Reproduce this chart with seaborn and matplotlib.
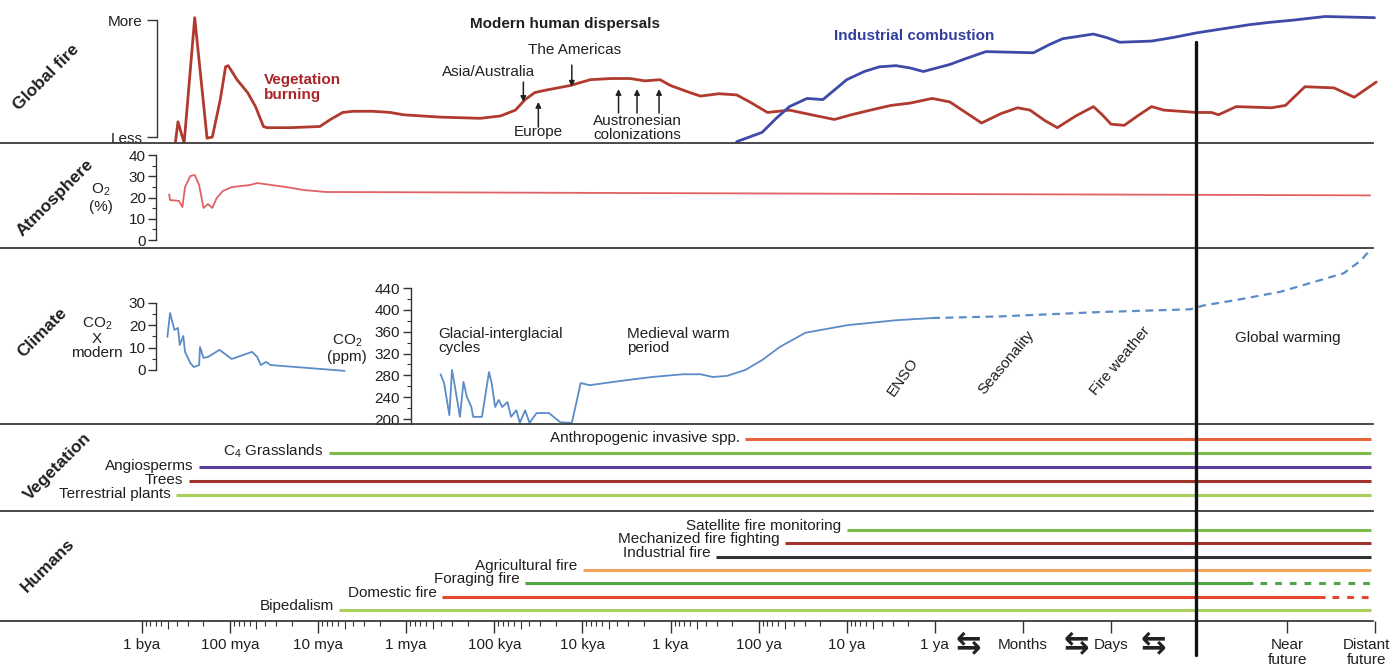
import numpy as np
import pandas as pd
import matplotlib
matplotlib.use('Agg')
import matplotlib.pyplot as plt
import matplotlib.transforms as mtransforms
from matplotlib.lines import Line2D
import seaborn as sns

# time axis: one unit per decade (0 = 1 bya ... 9 = 1 ya), then months, days, present, future
TIME_TICKS = [0, 1, 2, 3, 4, 5, 6, 7, 8, 9, 10, 11, 13, 14]
TIME_LABELS = ['1 bya', '100 mya', '10 mya', '1 mya', '100 kya', '10 kya', '1 kya',
               '100 ya', '10 ya', '1 ya', 'Months', 'Days', 'Near\nfuture', 'Distant\nfuture']
CYCLE_MARKS = [9.38, 10.60, 11.48]
PRESENT = 11.96
LINE_END = 13.95

# global fire (0 = less, 1 = more)
fire_pts = [(0.38, -0.05), (0.41, 0.13), (0.48, -0.05), (0.60, 1.02), (0.74, -0.01), (0.80, 0.00),
            (0.89, 0.32), (0.95, 0.60), (0.98, 0.61), (1.08, 0.49), (1.20, 0.38), (1.29, 0.26),
            (1.38, 0.09), (1.42, 0.08), (1.68, 0.08), (2.02, 0.09), (2.14, 0.15), (2.28, 0.21),
            (2.40, 0.22), (2.62, 0.22), (2.82, 0.21), (2.97, 0.19), (3.39, 0.17), (3.84, 0.16),
            (4.07, 0.18), (4.24, 0.23), (4.35, 0.32), (4.46, 0.38), (4.58, 0.40), (4.86, 0.44),
            (5.09, 0.49), (5.32, 0.50), (5.54, 0.50), (5.71, 0.48), (5.88, 0.49), (6.00, 0.44),
            (6.22, 0.38), (6.34, 0.35), (6.55, 0.37), (6.75, 0.36), (6.90, 0.30), (7.10, 0.21),
            (7.35, 0.23), (7.60, 0.19), (7.86, 0.15), (8.05, 0.19), (8.27, 0.23), (8.50, 0.27),
            (8.72, 0.29), (8.97, 0.33), (9.17, 0.30), (9.35, 0.21), (9.53, 0.12), (9.75, 0.20),
            (9.94, 0.25), (10.08, 0.23), (10.25, 0.14), (10.39, 0.08), (10.60, 0.18), (10.80, 0.26),
            (10.90, 0.19), (11.00, 0.11), (11.15, 0.10), (11.30, 0.18), (11.46, 0.26), (11.60, 0.23),
            (11.97, 0.21), (12.14, 0.21), (12.22, 0.19), (12.42, 0.26), (12.82, 0.25), (12.98, 0.27),
            (13.20, 0.43), (13.53, 0.42), (13.76, 0.34), (14.01, 0.47)]
industrial_pts = [(6.75, -0.04), (7.04, 0.04), (7.20, 0.16), (7.35, 0.26), (7.55, 0.33), (7.73, 0.32),
                  (8.00, 0.49), (8.20, 0.56), (8.37, 0.60), (8.56, 0.61), (8.72, 0.59), (8.87, 0.56),
                  (9.17, 0.62), (9.35, 0.67), (9.58, 0.73), (10.12, 0.72), (10.30, 0.79), (10.45, 0.84),
                  (10.80, 0.88), (10.95, 0.85), (11.10, 0.81), (11.46, 0.82), (11.70, 0.85), (11.97, 0.89),
                  (12.57, 0.96), (12.80, 0.98), (13.08, 1.00), (13.43, 1.03), (13.99, 1.02)]

# atmospheric O2 (%)
o2_pts = [(0.31, 21.5), (0.32, 18.8), (0.42, 18.4), (0.46, 15.5), (0.49, 24.9), (0.55, 30.1),
          (0.60, 30.6), (0.65, 25.9), (0.70, 15.1), (0.75, 16.9), (0.80, 15.1), (0.85, 19.8),
          (0.92, 23.1), (1.02, 24.9), (1.23, 25.9), (1.31, 26.8), (1.64, 24.9), (1.84, 23.5),
          (2.09, 22.6), (6.34, 22.0), (13.94, 21.0)]

# CO2 as multiple of modern, deep time
co2x_pts = [(0.29, 14.8), (0.32, 25.5), (0.37, 17.9), (0.41, 18.8), (0.43, 11.2), (0.47, 15.2),
            (0.49, 8.1), (0.55, 3.1), (0.59, 1.3), (0.65, 2.2), (0.66, 10.3), (0.70, 5.4),
            (0.75, 5.8), (0.88, 9.0), (1.02, 4.9), (1.25, 8.1), (1.31, 5.8), (1.35, 2.2),
            (1.41, 3.6), (1.46, 2.2), (2.30, -0.4)]

# CO2 (ppm), observed and projected
ppm_pts = [(3.39, 282), (3.43, 266), (3.49, 207), (3.52, 290), (3.56, 253), (3.61, 204), (3.65, 268),
           (3.69, 240), (3.74, 222), (3.76, 204), (3.86, 204), (3.94, 286), (3.97, 266), (4.01, 222),
           (4.05, 235), (4.09, 222), (4.15, 231), (4.19, 204), (4.25, 216), (4.29, 193), (4.35, 216),
           (4.40, 193), (4.48, 211), (4.62, 211), (4.75, 194), (4.88, 193), (4.93, 229), (4.98, 266),
           (5.08, 262), (5.49, 271), (5.79, 277), (6.14, 282), (6.34, 282), (6.48, 277), (6.64, 279),
           (6.85, 290), (7.04, 308), (7.24, 332), (7.53, 358), (8.01, 372), (8.56, 381), (8.97, 385)]
ppm_future_pts = [(8.97, 385), (9.74, 388), (10.88, 396), (11.90, 401), (12.05, 408), (12.42, 418),
                  (12.92, 433), (13.64, 467), (13.84, 491), (13.94, 510)]

# vegetation timelines (start on time axis)
veg_labels = ['Anthropogenic invasive spp.', 'C$_4$ Grasslands', 'Angiosperms', 'Trees', 'Terrestrial plants']
veg_start = [6.85, 2.12, 0.65, 0.53, 0.39]
veg_colors = ['#e8643c', '#7cba4a', '#5b3f9e', '#9e3427', '#a9cf5c']

# human timelines
hum_labels = ['Satellite fire monitoring', 'Mechanized fire fighting', 'Industrial fire',
              'Agricultural fire', 'Foraging fire', 'Domestic fire', 'Bipedalism']
hum_start = [8.00, 7.30, 6.52, 5.01, 4.35, 3.41, 2.24]
hum_solid_end = [13.95, 13.95, 13.95, 13.95, 12.61, 13.43, 13.95]
hum_colors = ['#7cba4a', '#a5322a', '#333333', '#f4a259', '#4ea646', '#e4472e', '#a9cf5c']

fire = pd.DataFrame(fire_pts, columns=['t', 'level'])
industrial = pd.DataFrame(industrial_pts, columns=['t', 'level'])
o2 = pd.DataFrame(o2_pts, columns=['t', 'o2'])
co2x = pd.DataFrame(co2x_pts, columns=['t', 'co2x'])
ppm = pd.DataFrame(ppm_pts, columns=['t', 'ppm'])
ppm_future = pd.DataFrame(ppm_future_pts, columns=['t', 'ppm'])

sns.set_theme(style='white')
plt.rcParams['font.family'] = ['Liberation Sans', 'DejaVu Sans']
plt.rcParams['mathtext.default'] = 'regular'
TXT = '#231f20'
plt.rcParams['text.color'] = TXT

W, H = 1393, 670
XLIM = (-1.61, 14.20)
fig = plt.figure(figsize=(W / 100, H / 100), dpi=100)


def panel(top, bot, ylim):
    ax = fig.add_axes([0, 1 - bot / H, 1, (bot - top) / H])
    ax.patch.set_alpha(0)
    for s in ax.spines.values():
        s.set_visible(False)
    ax.set_xlim(XLIM)
    ax.set_ylim(ylim)
    ax.set_xticks([])
    ax.set_yticks([])
    return ax


def separator(ax):
    sp = ax.spines['bottom']
    sp.set_visible(True)
    sp.set_bounds(XLIM[0], 13.97)
    sp.set_color('#3a3a3a')
    sp.set_linewidth(1.3)


def yaxis(ax, xpos, lo, hi, ticks, labels=None, minor=None, length=5.5, pad=2):
    sp = ax.spines['left']
    sp.set_visible(True)
    sp.set_position(('data', xpos))
    sp.set_bounds(lo, hi)
    sp.set_color('#333333')
    sp.set_linewidth(1.0)
    ax.set_yticks(ticks)
    if labels is not None:
        ax.set_yticklabels(labels)
    if minor is not None:
        ax.set_yticks(minor, minor=True)
    ax.tick_params(axis='y', which='major', direction='out', length=length, width=1.0,
                   pad=pad, labelsize=11, left=True, colors='#333333', labelcolor=TXT)
    ax.tick_params(axis='y', which='minor', direction='out', length=3, width=0.8, left=True,
                   colors='#333333')


def line(ax, df, y, color, lw, **kw):
    sns.lineplot(data=df, x='t', y=y, ax=ax, color=color, linewidth=lw, sort=False,
                 estimator=None, legend=False, **kw)
    ax.set_xlabel('')
    ax.set_ylabel('')


# ---- Global fire
ax_fire = panel(0, 143, (-0.051, 1.171))
line(ax_fire, fire, 'level', '#b03a2e', 2.0)
line(ax_fire, industrial, 'level', '#3d4aa8', 2.0)
separator(ax_fire)
yaxis(ax_fire, 0.17, 0, 1, [0, 1], ['Less', 'More'], length=7, pad=3)
ax_fire.text(1.38, 0.42, 'Vegetation\nburning', color='#a8262b', fontsize=11, fontweight='bold',
             ha='left', va='center', linespacing=1.1)
ax_fire.text(8.77, 0.86, 'Industrial combustion', color='#333f9c', fontsize=11, fontweight='bold',
             ha='center', va='center')
ax_fire.text(4.80, 0.97, 'Modern human dispersals', fontsize=11, fontweight='bold', ha='center', va='center')
ax_fire.text(4.91, 0.74, 'The Americas', fontsize=11, ha='center', va='center')
ax_fire.text(3.94, 0.56, 'Asia/Australia', fontsize=11, ha='center', va='center')
ax_fire.text(4.50, 0.04, 'Europe', fontsize=11, ha='center', va='center')
ax_fire.text(5.62, 0.08, 'Austronesian\ncolonizations', fontsize=11, ha='center', va='center',
             linespacing=1.0)
arrows = [(4.88, 0.615, 0.43), (4.33, 0.47, 0.30), (4.50, 0.085, 0.30),
          (5.41, 0.205, 0.41), (5.62, 0.205, 0.41), (5.87, 0.205, 0.41)]
for ax_x, tail, head in arrows:
    ax_fire.annotate('', xy=(ax_x, head), xytext=(ax_x, tail),
                     arrowprops=dict(arrowstyle='-|>', color='#222222', lw=1.1,
                                     mutation_scale=8, shrinkA=0, shrinkB=0))

# ---- Atmosphere
ax_atm = panel(143, 248, (-3.76, 45.65))
line(ax_atm, o2, 'o2', '#e06262', 1.3)
separator(ax_atm)
yaxis(ax_atm, 0.164, 0, 40, [0, 10, 20, 30, 40], minor=[5, 15, 25, 35])
ax_atm.text(-0.47, 19.8, 'O$_2$\n(%)', fontsize=11, ha='center', va='center', linespacing=1.15)

# ---- Climate
ax_clim = panel(248, 424, (190.9, 513.3))
line(ax_clim, ppm, 'ppm', '#5b8cc8', 1.3)
line(ax_clim, ppm_future, 'ppm', '#5b8cc8', 1.6, dashes=(3.5, 2.5))
separator(ax_clim)
yaxis(ax_clim, 3.05, 190.9, 440, [200, 240, 280, 320, 360, 400, 440],
      minor=[220, 260, 300, 340, 380, 420])
ax_clim.text(2.33, 330, 'CO$_2$\n(ppm)', fontsize=11, ha='center', va='center', linespacing=1.1)
ax_clim.text(3.36, 343, 'Glacial-interglacial\ncycles', fontsize=11, ha='left', va='center', linespacing=1.05)
ax_clim.text(5.51, 343, 'Medieval warm\nperiod', fontsize=11, ha='left', va='center', linespacing=1.05)
ax_clim.text(8.64, 277, 'ENSO', fontsize=11, ha='center', va='center', rotation=55)
ax_clim.text(9.81, 303, 'Seasonality', fontsize=11, ha='center', va='center', rotation=50)
ax_clim.text(11.10, 306, 'Fire weather', fontsize=11, ha='center', va='center', rotation=50)
ax_clim.text(13.01, 348, 'Global warming', fontsize=11, ha='center', va='center')

ax_co2x = panel(248, 424, (-24.2, 54.6))
line(ax_co2x, co2x, 'co2x', '#5b8cc8', 1.3)
yaxis(ax_co2x, 0.164, 0, 30, [0, 10, 20, 30], minor=[5, 15, 25])
ax_co2x.text(-0.51, 14.3, 'CO$_2$\nX\nmodern', fontsize=11, ha='center', va='center', linespacing=1.0)

# ---- Vegetation
ax_veg = panel(424, 511, (5.14, -1.07))
separator(ax_veg)
for i, (lab, start, col) in enumerate(zip(veg_labels, veg_start, veg_colors)):
    ax_veg.hlines(i, start, LINE_END, colors=col, linewidth=2.2)
    ax_veg.annotate(lab, (start, i), xytext=(-4, 1), textcoords='offset points',
                    ha='right', va='center', fontsize=11)

# ---- Humans
ax_hum = panel(511, 621, (6.83, -1.43))
for i, (lab, start, end, col) in enumerate(zip(hum_labels, hum_start, hum_solid_end, hum_colors)):
    ax_hum.hlines(i, start, end, colors=col, linewidth=2.2)
    if end < LINE_END:
        ax_hum.hlines(i, end + 0.08, LINE_END, colors=col, linewidth=2.2, linestyles=(0, (2.2, 2.6)))
    ax_hum.annotate(lab, (start, i), xytext=(-4, 0), textcoords='offset points',
                    ha='right', va='baseline', fontsize=11)

# time axis along the bottom of the humans panel
sp = ax_hum.spines['bottom']
sp.set_visible(True)
sp.set_bounds(XLIM[0], 13.97)
sp.set_color('#3a3a3a')
sp.set_linewidth(1.3)
ax_hum.set_xticks(TIME_TICKS)
ax_hum.set_xticklabels(TIME_LABELS)
decades = np.arange(9)
minor_ticks = [d + 1 - np.log10(k) for d in decades for k in (9, 8, 7, 6, 4, 3, 2)]
ax_hum.set_xticks(minor_ticks, minor=True)
ax_hum.tick_params(axis='x', which='major', direction='out', length=8.5, width=1.0, pad=4,
                   labelsize=11, bottom=True, colors='#333333', labelcolor=TXT)
ax_hum.tick_params(axis='x', which='minor', direction='out', length=3.5, width=0.8, bottom=True,
                   colors='#333333')
tick_labels = ax_hum.get_xticklabels()
for lab in tick_labels:
    lab.set_linespacing(1.05)
# the last label sits against the right edge
tick_labels[-1].set_transform(tick_labels[-1].get_transform() +
                              mtransforms.ScaledTranslation(-9 / 100, 0, fig.dpi_scale_trans))

ax_mid = panel(511, 621, (6.83, -1.43))
ax_mid.set_xticks([d + 1 - np.log10(5) for d in decades])
ax_mid.set_xticklabels([])
ax_mid.tick_params(axis='x', which='major', direction='out', length=5.5, width=0.8, bottom=True,
                   colors='#333333')

label_tr = mtransforms.blended_transform_factory(ax_hum.transData, fig.transFigure)
for cx in CYCLE_MARKS:
    ax_hum.text(cx, 1 - 645 / H, '\u21c6', transform=label_tr, fontsize=22, fontweight='bold',
                family='DejaVu Sans', ha='center', va='center', color='#222222')

# present day marker through all panels
fig.add_artist(Line2D([PRESENT, PRESENT], [1 - 42 / H, 1 - 655 / H], transform=label_tr,
                      color='#111111', linewidth=2.4))

# section titles
sections = [('Global fire', 46, 77), ('Atmosphere', 55, 198), ('Climate', 42, 333),
            ('Vegetation', 58, 467), ('Humans', 48, 566)]
for name, px, py in sections:
    fig.text(px / W, 1 - py / H, name, rotation=45, fontsize=12.5, fontweight='bold',
             ha='center', va='center', rotation_mode='anchor')

fig.savefig('out.png', dpi=100, facecolor='white')
